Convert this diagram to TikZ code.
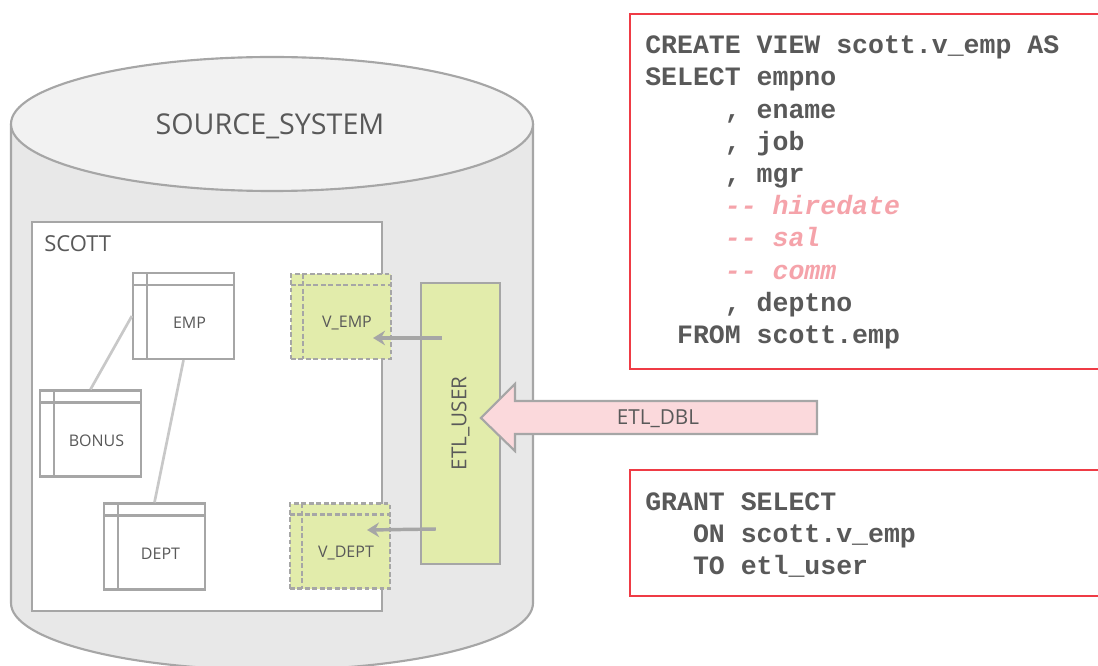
\documentclass[tikz,border=0pt]{standalone}
\usepackage{fontspec}
\setmainfont{Open Sans}
\newfontfamily\sqlfont{Liberation Mono}
\usetikzlibrary{arrows.meta,calc}

\definecolor{linegray}{RGB}{166,166,166}
\definecolor{relgray}{RGB}{200,200,200}
\definecolor{txtgray}{RGB}{89,89,89}
\definecolor{cylbody}{RGB}{232,232,232}
\definecolor{cyltop}{RGB}{242,242,242}
\definecolor{viewgreen}{RGB}{226,236,171}
\definecolor{dblpink}{RGB}{251,217,220}
\definecolor{sqlred}{RGB}{239,59,69}
\definecolor{cmtpink}{RGB}{245,163,170}

\begin{document}
\begin{tikzpicture}[x=0.75pt,y=-0.75pt,
  cyl edge/.style={draw=linegray,line width=1.6pt},
  box text/.style={text=txtgray,font=\fontsize{12}{14}\selectfont},
  table node/.style={draw=linegray,line width=1.7pt,fill=white,inner sep=0pt,
    minimum width=75.75pt,minimum height=64.5pt,
    label={[box text,xshift=4.5pt,yshift=-5.25pt]center:#1},
    path picture={
      \draw[linegray,line width=1.7pt] ([yshift=-9pt]path picture bounding box.north west)
        -- ([yshift=-9pt]path picture bounding box.north east);
      \draw[linegray,line width=1.7pt] ([xshift=10.5pt]path picture bounding box.north west)
        -- ([xshift=10.5pt]path picture bounding box.south west);}},
  view node/.style={draw=linegray,line width=1.6pt,dash pattern=on 3.6pt off 2pt,
    fill=viewgreen,inner sep=0pt,minimum width=75pt,minimum height=63.75pt,
    label={[box text,xshift=4.5pt,yshift=-5.25pt]center:#1},
    path picture={
      \draw[linegray,line width=1.6pt,dash pattern=on 3.6pt off 2pt]
        ([yshift=-8.25pt]path picture bounding box.north west)
        -- ([yshift=-8.25pt]path picture bounding box.north east);
      \draw[linegray,line width=1.6pt,dash pattern=on 3.6pt off 2pt]
        ([xshift=9pt]path picture bounding box.north west)
        -- ([xshift=9pt]path picture bounding box.south west);}},
  rel line/.style={draw=relgray,line width=2pt},
  grant arrow/.style={draw=linegray,line width=2.6pt,
    -{Stealth[length=9pt,width=11pt,inset=3pt]}},
  sql box/.style={draw=sqlred,line width=1.5pt,fill=white,inner sep=0pt,anchor=north west},
  sql text/.style={text=txtgray,align=left,inner sep=0pt,anchor=north west,
    font=\sqlfont\bfseries\fontsize{19.9}{24.15}\selectfont}]

  \useasboundingbox (0,0) rectangle (1098,666);
  \clip (0,0) rectangle (1098,666);

  % database cylinder
  \fill[cylbody] (11,124) -- (11,603)
    arc[start angle=180,end angle=360,x radius=195.75pt,y radius=50.25pt]
    -- (533,124) -- cycle;
  \draw[cyl edge] (11,124) -- (11,603)
    arc[start angle=180,end angle=360,x radius=195.75pt,y radius=50.25pt]
    -- (533,124);
  \draw[cyl edge,fill=cyltop] (272,124) ellipse [x radius=195.75pt,y radius=50.25pt];
  \node[text=txtgray,font=\fontsize{21.5}{24}\selectfont] (src) at (270,126) {SOURCE\_SYSTEM};

  % schema
  \node[draw=linegray,line width=1.6pt,fill=white,minimum width=262.5pt,
    minimum height=291.75pt] (scott) at (207,416.5) {};
  \node[text=txtgray,font=\fontsize{16.5}{18}\selectfont,anchor=west,inner sep=0pt]
    (scottlbl) at (44,243.5) {SCOTT};

  % tables
  \node[table node=EMP] (emp) at (183.5,316) {};
  \node[table node=BONUS] (bonus) at (90.5,433.5) {};
  \node[table node=DEPT] (dept) at (154.5,546.5) {};

  \path[rel line]
    (bonus.north) edge (emp.west)
    (emp.south) edge (dept.north);

  % views
  \node[view node=V\_EMP] (vemp) at (341,316.5) {};
  \node[view node=V\_DEPT] (vdept) at (340,546) {};

  % etl user
  \node[draw=linegray,line width=1.6pt,fill=viewgreen,minimum width=59.25pt,
    minimum height=210.75pt,text=txtgray,font=\fontsize{15.5}{18}\selectfont]
    (user) at (460.4,423.5) {\rotatebox{90}{ETL\_USER}};

  \path (user.west |- vemp.center) ++(22,21.5) coordinate (u1);
  \path (vemp.east) ++(-19,21.5) coordinate (v1);
  \path (user.west |- vdept.center) ++(16,-17) coordinate (u2);
  \path (vdept.east) ++(-24,-16) coordinate (v2);
  \draw[grant arrow] (u1) -- (v1);
  \draw[grant arrow] (u2) -- (v2);

  % database link
  \path (user.east) ++(-20,-5.5) coordinate (dbltip);
  \draw[draw=linegray,line width=1.6pt,fill=dblpink,line join=miter]
    (dbltip) -- ++(34,-34) -- ++(0,17) -- ++(302,0) -- ++(0,33)
    -- ++(-302,0) -- ++(0,17) -- cycle;
  \node[text=txtgray,font=\fontsize{15.5}{18}\selectfont] (dbl)
    at ($(dbltip)+(177,1)$) {ETL\_DBL};

  % sql statements
  \node[sql box,minimum width=360.75pt,minimum height=266.25pt] (viewbox) at (629,12.7) {};
  \node[sql text] (viewsql) at ($(viewbox.north west)+(16,19.5)$) {%
    \rule{0pt}{16pt}CREATE VIEW scott.v\_emp AS\\
    SELECT empno\\
    \hspace*{3em}, ename\\
    \hspace*{3em}, job\\
    \hspace*{3em}, mgr\\
    \hspace*{3em}{\color{cmtpink}\itshape -{}- hiredate}\\
    \hspace*{3em}{\color{cmtpink}\itshape -{}- sal}\\
    \hspace*{3em}{\color{cmtpink}\itshape -{}- comm}\\
    \hspace*{3em}, deptno\\
    \hspace*{1.2em}FROM scott.emp};

  \node[sql box,minimum width=360.75pt,minimum height=94.5pt] (grantbox) at (629,469) {};
  \node[sql text] (grantsql) at ($(grantbox.north west)+(16,19.7)$) {%
    \rule{0pt}{16pt}GRANT SELECT\\
    \hspace*{1.8em}ON scott.v\_emp\\
    \hspace*{1.8em}TO etl\_user};
\end{tikzpicture}
\end{document}
